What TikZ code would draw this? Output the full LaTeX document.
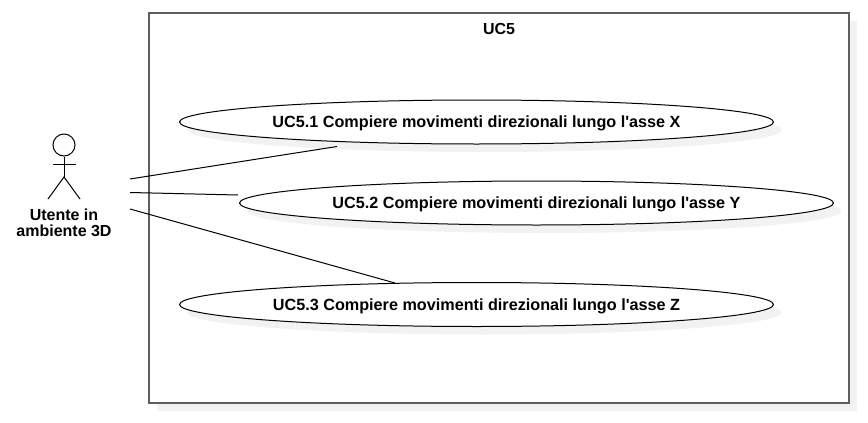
\documentclass[tikz,border=0pt]{standalone}
\usepackage{fontspec}
\setmainfont{Liberation Sans}
\usetikzlibrary{shapes.geometric,shadows}
\definecolor{shadowgray}{HTML}{F2F2F2}
\definecolor{framegray}{HTML}{5F5F5F}
\tikzset{
  usecase/.style={draw,ellipse,fill=white,line width=1pt,inner sep=0pt,minimum width=594pt,minimum height=44pt,
    font=\bfseries\fontsize{16.2pt}{16pt}\selectfont,text height=15pt,text depth=3.5pt,
    general shadow={fill=shadowgray,shadow xshift=8pt,shadow yshift=-8pt}},
  assoc/.style={line width=1pt},
  label/.style={font=\bfseries\fontsize{16pt}{16pt}\selectfont,align=center,inner sep=0pt}
}
\begin{document}
\begin{tikzpicture}[x=1pt,y=-1pt]
\useasboundingbox (0,0) rectangle (868,423);
\fill[shadowgray] (157,21) rectangle (857,411);
\draw[framegray,fill=white,line width=1.5pt] (149,13) rectangle (849,403);
\node[label] (title) at (499,28.5) {UC5};
\node[usecase] (uc1) at (476.5,122) {UC5.1 Compiere movimenti direzionali lungo l\textquotesingle asse X};
\node[usecase] (uc2) at (536.5,203) {UC5.2 Compiere movimenti direzionali lungo l\textquotesingle asse Y};
\node[usecase] (uc3) at (476.5,304.5) {UC5.3 Compiere movimenti direzionali lungo l\textquotesingle asse Z};
% actor
\node[draw,circle,line width=1pt,minimum size=22pt,inner sep=0pt] (head) at (64,145) {};
\coordinate (hip) at (64,177);
\coordinate (armL) at (52.5,164);
\coordinate (armR) at (75.5,164);
\coordinate (legL) at (48,199);
\coordinate (legR) at (80,199);
\draw[assoc] (head.south) -- (hip);
\draw[assoc] (armL) -- (armR);
\draw[assoc] (legL) -- (hip) -- (legR);
\node[label] (actor) at (64,223) {Utente in\\ambiente 3D};
% associations
\coordinate (a1) at (130,179);
\coordinate (a2) at (130,192.5);
\coordinate (a3) at (130,209);
\coordinate (e1) at (337,146.5);
\coordinate (e2) at (238,195);
\coordinate (e3) at (395,283);
\draw[assoc] (a1) -- (e1);
\draw[assoc] (a2) -- (e2);
\draw[assoc] (a3) -- (e3);
\end{tikzpicture}
\end{document}
